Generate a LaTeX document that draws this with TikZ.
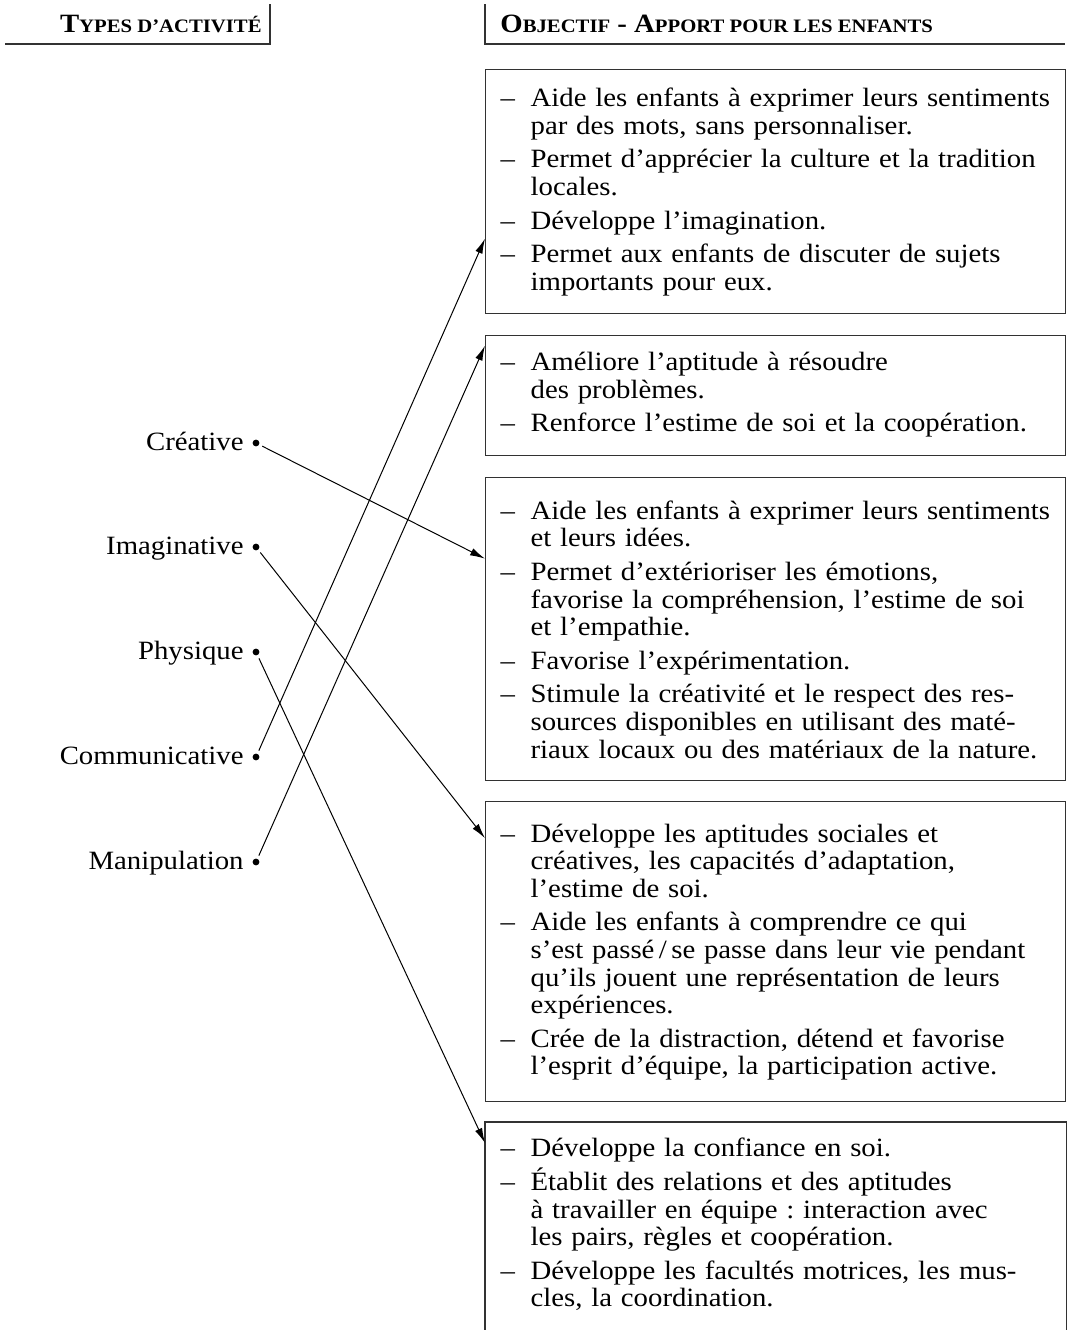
\documentclass[tikz,border=0pt]{standalone}
\usepackage{fontspec}
\setmainfont{Liberation Serif}[FakeStretch=1.09]
\usetikzlibrary{arrows.meta}
\frenchspacing
\hyphenpenalty=10000

% tirets des listes dans les cadres (\premier pour le premier)
\newcommand{\premier}{\lineskiplimit=-10pt\leftskip=2pt\hangindent=15pt\hangafter=1\noindent\makebox[15pt][l]{–}\strut}
\newcommand{\tiret}{\par\addvspace{3pt}\premier}
\newcommand{\petitcap}[1]{{\fontsize{9.5}{10}\selectfont #1}}

\begin{document}
\begin{tikzpicture}[x=0.5pt, y=-0.5pt,
  every node/.style={font=\fontsize{13.2}{13.8}\selectfont},
  cadre/.style={draw=grisCadre, line width=0.65pt, anchor=north west, text width=279pt,
    inner xsep=5.5pt, inner ysep=7.5pt, align=left},
  etiquette/.style={anchor=base east, inner sep=0pt},
  point/.style={circle, fill, inner sep=0pt, minimum size=3.4pt},
  fleche/.style={-{Latex[length=7.5pt,width=3.8pt]}, line width=0.5pt, shorten <=3.5pt}]
  \definecolor{grisCadre}{RGB}{50,50,50}

  \useasboundingbox (0,0) rectangle (1069,1330);

  % en-tetes
  \node[anchor=base east, inner sep=0pt] (titreType) at (262,32) {\textbf{T\petitcap{YPES D’ACTIVITÉ}}};
  \node[anchor=base west, inner sep=0pt] (titreObj) at (500,32) {\textbf{O\petitcap{BJECTIF} - A\petitcap{PPORT POUR LES ENFANTS}}};
  \draw[grisCadre, line width=0.65pt] (5,44) -| (270,4);
  \draw[grisCadre, line width=0.65pt] (485,4) |- (1065,44);

  % cadres des objectifs
  \node[cadre, minimum height=122pt] (b1) at (485,69) {%
    \premier Aide les enfants à exprimer leurs sentiments\newline par des mots, sans personnaliser.
    \tiret Permet d’apprécier la culture et la tradition\newline locales.
    \tiret Développe l’imagination.
    \tiret Permet aux enfants de discuter de sujets\newline importants pour eux.\par};
  \node[cadre, minimum height=60pt] (b2) at (485,335) {%
    \premier Améliore l’aptitude à résoudre\newline des problèmes.
    \tiret Renforce l’estime de soi et la coopération.\par};
  \node[cadre, minimum height=151.5pt] (b3) at (485,477) {%
    \premier Aide les enfants à exprimer leurs sentiments\newline et leurs idées.
    \tiret Permet d’extérioriser les émotions,\newline favorise la compréhension, l’estime de soi\newline et l’empathie.
    \tiret Favorise l’expérimentation.
    \tiret Stimule la créativité et le respect des res-\newline sources disponibles en utilisant des maté-\newline riaux locaux ou des matériaux de la nature.\par};
  \node[cadre, minimum height=150pt] (b4) at (485,801) {%
    \premier Développe les aptitudes sociales et\newline créatives, les capacités d’adaptation,\newline l’estime de soi.
    \tiret Aide les enfants à comprendre ce qui\newline s’est passé\,/\,se passe dans leur vie pendant\newline qu’ils jouent une représentation de leurs\newline expériences.
    \tiret Crée de la distraction, détend et favorise\newline l’esprit d’équipe, la participation active.\par};
  \node[cadre, draw=none] (b5) at (485,1122) {%
    \premier Développe la confiance en soi.
    \tiret Établit des relations et des aptitudes\newline à travailler en équipe : interaction avec\newline les pairs, règles et coopération.
    \tiret Développe les facultés motrices, les mus-\newline cles, la coordination.\par};
  \draw[grisCadre, line width=0.65pt] ([yshift=-20pt]b5.south west) -- (b5.north west) -- (b5.north east) -- ([yshift=-20pt]b5.south east);

  % types d'activite
  \node[etiquette] (lCre) at (244,450) {Créative};
  \node[etiquette] (lIma) at (244,554) {Imaginative};
  \node[etiquette] (lPhy) at (244,659) {Physique};
  \node[etiquette] (lCom) at (244,764) {Communicative};
  \node[etiquette] (lMan) at (244,869) {Manipulation};
  \node[point] (pCre) at (256,443) {};
  \node[point] (pIma) at (256,547) {};
  \node[point] (pPhy) at (256,652) {};
  \node[point] (pCom) at (256,757) {};
  \node[point] (pMan) at (256,862) {};

  % liaisons
  \draw[fleche] (pCre.center) -- ([yshift=35.25pt]b3.west);
  \draw[fleche] (pIma.center) -- ([yshift=56.75pt]b4.west);
  \draw[fleche] (pPhy.center) -- ([yshift=-10.5pt]b5.north west);
  \draw[fleche] (pCom.center) -- ([yshift=-23.5pt]b1.west);
  \draw[fleche] (pMan.center) -- ([yshift=25pt]b2.west);
\end{tikzpicture}
\end{document}
